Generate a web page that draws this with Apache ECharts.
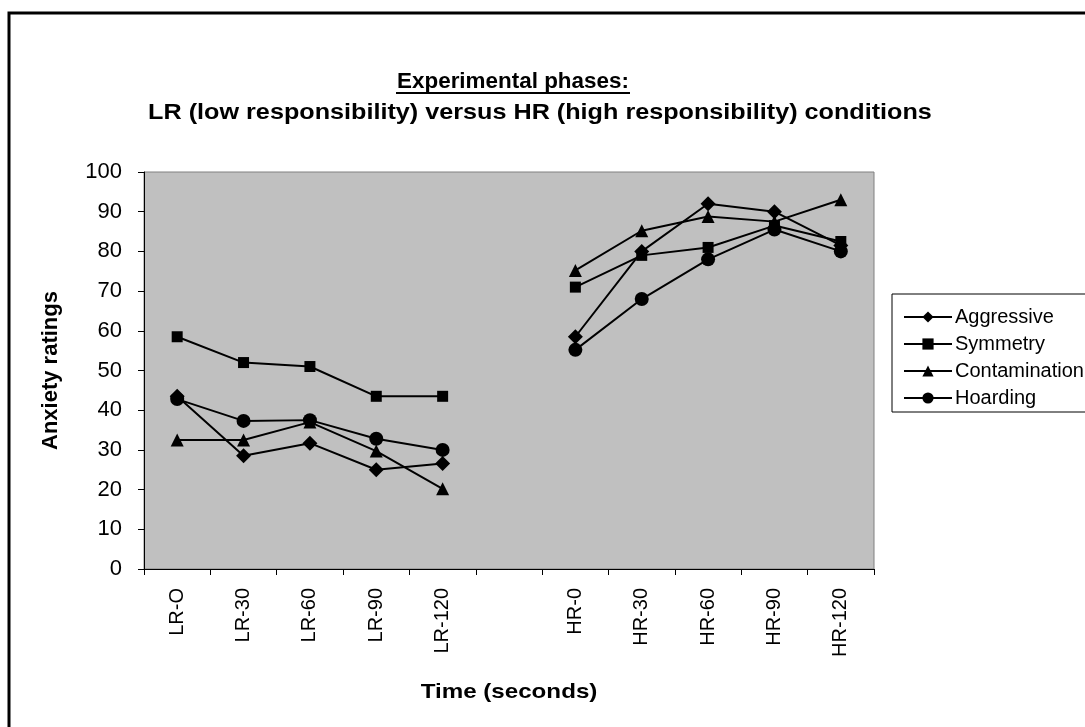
<!DOCTYPE html>
<html>
<head>
<meta charset="utf-8">
<script src="https://cdn.jsdelivr.net/npm/echarts@6/dist/echarts.min.js"></script>
<style>
  html, body { margin: 0; padding: 0; background: #fff; }
  #chart { width: 1085px; height: 727px; }
</style>
</head>
<body>
<div id="chart"></div>
<script>
const categories = ["LR-O", "LR-30", "LR-60", "LR-90", "LR-120", "", "HR-0", "HR-30", "HR-60", "HR-90", "HR-120"];
const aggressive = [43.5, 28.5, 31.7, 25.0, 26.6, null, 58.5, 80.0, 92.0, 90.0, 81.5];
const symmetry = [58.5, 52.0, 51.0, 43.5, 43.5, null, 71.0, 79.0, 81.0, 86.5, 82.5];
const contamination = [32.5, 32.5, 37.0, 29.7, 20.2, null, 75.2, 85.2, 88.8, 87.5, 93.0];
const hoarding = [42.8, 37.3, 37.5, 32.8, 30.0, null, 55.2, 68.0, 78.0, 85.5, 80.0];

const font = "Liberation Sans, Arial, sans-serif";

function line(name, data, symbol, size) {
    return {
        name: name,
        type: "line",
        data: data,
        symbol: symbol,
        symbolSize: size,
        connectNulls: false,
        lineStyle: { color: "#000", width: 2 },
        itemStyle: { color: "#000" },
        emphasis: { disabled: true }
    };
}

const chart = echarts.init(document.getElementById("chart"));

chart.setOption({
    animation: false,
    backgroundColor: "#fff",
    textStyle: { fontFamily: font, color: "#000" },
    graphic: [
        // outer frame (right and bottom edges fall outside the picture)
        {
            type: "rect",
            shape: { x: 9, y: 13, width: 1200, height: 900 },
            style: { fill: "none", stroke: "#000", lineWidth: 3 },
            silent: true
        },
        // title, first line underlined
        {
            type: "text",
            x: 397,
            y: 82,
            scaleX: 1.02,
            style: {
                text: "Experimental phases:",
                font: "bold 22px " + font,
                fill: "#000",
                align: "left",
                verticalAlign: "middle"
            },
            silent: true
        },
        {
            type: "line",
            shape: { x1: 396, y1: 93, x2: 630, y2: 93 },
            style: { stroke: "#000", lineWidth: 2 },
            silent: true
        },
        {
            type: "text",
            x: 540,
            y: 113,
            scaleX: 1.145,
            style: {
                text: "LR (low responsibility) versus HR (high responsibility) conditions",
                font: "bold 22px " + font,
                fill: "#000",
                align: "center",
                verticalAlign: "middle"
            },
            silent: true
        },
        {
            type: "text",
            x: 509,
            y: 692,
            scaleX: 1.15,
            style: {
                text: "Time (seconds)",
                font: "bold 21px " + font,
                fill: "#000",
                align: "center",
                verticalAlign: "middle"
            },
            silent: true
        },
        // legend box
        {
            type: "rect",
            shape: { x: 892, y: 294, width: 300, height: 118 },
            style: { fill: "#fff", stroke: "#000", lineWidth: 1 },
            silent: true,
            z: 1
        }
    ],
    legend: {
        orient: "vertical",
        left: 898,
        top: 302,
        itemWidth: 48,
        itemHeight: 14,
        itemGap: 7,
        z: 5,
        textStyle: { fontFamily: font, fontSize: 20, color: "#000", padding: [0, 0, 0, -2] },
        data: ["Aggressive", "Symmetry", "Contamination", "Hoarding"]
    },
    grid: {
        left: 144,
        right: 211,
        top: 172,
        bottom: 158,
        show: true,
        backgroundColor: "#C0C0C0",
        borderColor: "#808080",
        borderWidth: 1
    },
    xAxis: {
        type: "category",
        data: categories,
        boundaryGap: true,
        axisLine: { lineStyle: { color: "#000", width: 1 } },
        axisTick: { show: true, interval: 0, length: 6, lineStyle: { color: "#000" } },
        axisLabel: { interval: 0, rotate: 90, margin: 19, fontSize: 20, color: "#000", fontFamily: font },
        splitLine: { show: false }
    },
    yAxis: {
        type: "value",
        min: 0,
        max: 100,
        interval: 10,
        name: "Anxiety ratings",
        nameLocation: "middle",
        nameGap: 82,
        nameTextStyle: { fontFamily: font, fontSize: 22, fontWeight: "bold", color: "#000" },
        axisLine: { show: true, lineStyle: { color: "#000", width: 1 } },
        axisTick: { show: true, length: 6, lineStyle: { color: "#000" } },
        axisLabel: { margin: 22, fontSize: 22, color: "#000", fontFamily: font },
        splitLine: { show: false }
    },
    series: [
        line("Aggressive", aggressive, "diamond", 15),
        line("Symmetry", symmetry, "rect", 11),
        line("Contamination", contamination, "triangle", 13),
        line("Hoarding", hoarding, "circle", 14)
    ]
});
</script>
</body>
</html>
